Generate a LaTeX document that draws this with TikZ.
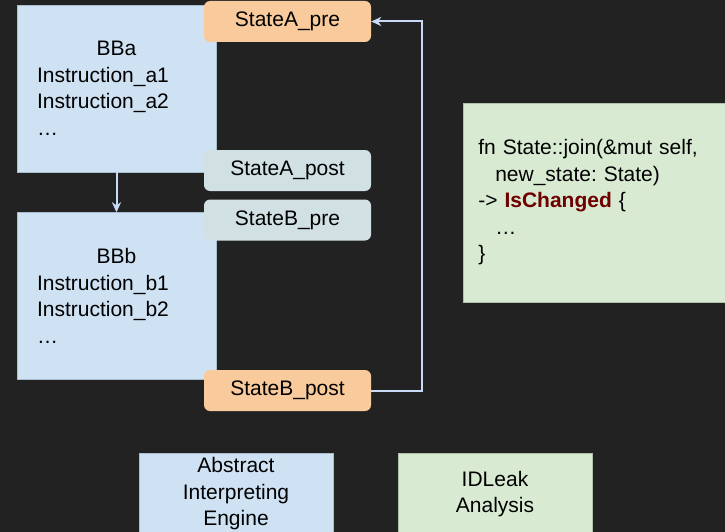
\documentclass[tikz,border=0pt]{standalone}
\usepackage{fontspec}
\setmainfont{Liberation Sans}
\usepackage{xcolor}
\usetikzlibrary{arrows.meta,positioning}
\tikzset{>={Stealth[length=10pt,width=9pt,inset=3pt]}}
\definecolor{bgdark}{HTML}{222222}
\definecolor{bbblue}{HTML}{CFE2F3}
\definecolor{bbedge}{HTML}{A9BCCF}
\definecolor{preorange}{HTML}{F9CB9C}
\definecolor{postgrey}{HTML}{D0E0E3}
\definecolor{codegreen}{HTML}{D9EAD3}
\definecolor{codeedge}{HTML}{AFBFA9}
\definecolor{flowblue}{HTML}{C9DAF8}
\definecolor{rustred}{HTML}{6F0000}
\newcommand{\bigtext}{\fontsize{21}{26.5}\selectfont\frenchspacing}

\begin{document}
\begin{tikzpicture}[x=1pt, y=-1pt,
              bbbox/.style={draw=bbedge, line width=.6pt, fill=bbblue, font=\bigtext,
                            text width=159pt, inner xsep=20pt, inner ysep=0pt,
                            minimum height=167pt, align=left},
              statebox/.style={rounded corners=6pt, font=\bigtext, inner sep=0pt,
                               minimum width=167pt, minimum height=41pt},
              prebox/.style={statebox, fill=preorange},
              postbox/.style={statebox, fill=postgrey},
              toolbox/.style={draw=bbedge, line width=.6pt, font=\bigtext, align=center,
                              minimum width=194pt, minimum height=82pt, inner sep=0pt},
              flow/.style={draw=flowblue, line width=2pt, ->},
             ]
\useasboundingbox (0,0) rectangle (725,532);
\fill[bgdark] (0,0) rectangle (725,532);
\clip (0,0) rectangle (725,532);

% basic blocks
\node[bbbox] (bba) at (116.5,88.5)
  {\centering BBa\par\raggedright Instruction\_a1\\Instruction\_a2\\…};
\node[bbbox, below=40pt of bba] (bbb)
  {\centering BBb\par\raggedright Instruction\_b1\\Instruction\_b2\\…};

% states
\node[prebox] (sapre) at (287.5,21.5) {StateA\_pre};
\node[postbox] (sapost) at (287.5,170.5) {StateA\_post};
\node[postbox] (sbpre) at (287.5,220) {StateB\_pre};
\node[prebox] (sbpost) at (287.5,390.5) {StateB\_post};

\draw[flow] (bba) -- (bbb);
\draw[flow] (sbpost.east) -- ++(51,0) |- (sapre.east);

% join
\node[draw=codeedge, line width=.6pt, fill=codegreen, font=\bigtext, anchor=west,
      text width=250pt, inner xsep=15pt, inner ysep=0pt, minimum height=199pt,
      align=left] (join) at (463,202.5)
  {fn State::join(\&mut self,\\
   \hspace*{17pt}new\_state: State)\\
   -> \textcolor{rustred}{\textbf{IsChanged}} \{\\
   \hspace*{17pt}…\\
   \}};

\node[toolbox, fill=bbblue] (engine) at (236,494) {Abstract\\Interpreting\\Engine};
\node[toolbox, draw=codeedge, fill=codegreen] (idleak) at (495,494) {IDLeak\\Analysis};
\end{tikzpicture}
\end{document}
